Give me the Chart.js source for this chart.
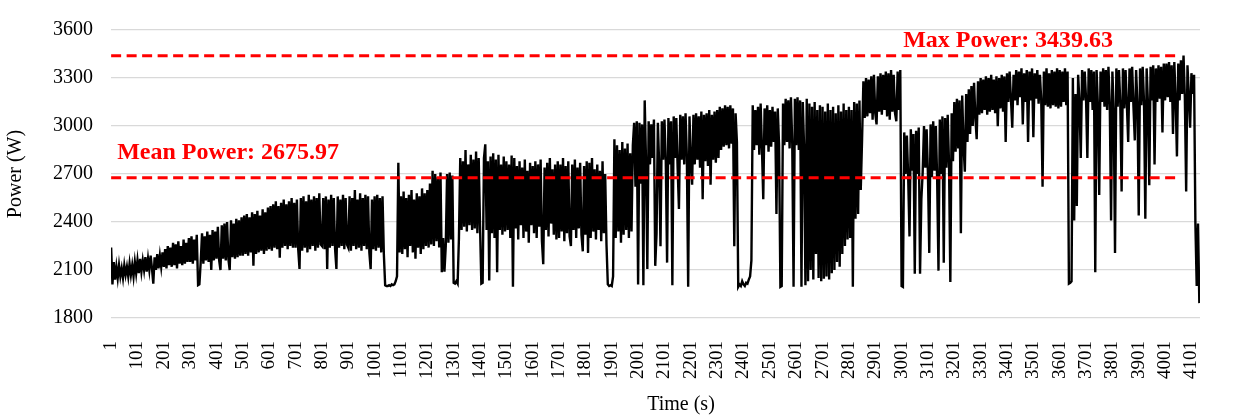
<!DOCTYPE html>
<html>
<head>
<meta charset="utf-8">
<script src="https://cdn.jsdelivr.net/npm/chart.js@4/dist/chart.umd.min.js"></script>
<style>
  body { margin: 0; background: #fff; }
</style>
</head>
<body>
<canvas id="chart" width="1244" height="417"></canvas>
<script>
'use strict';

// Power readings (W), one sample every 5 s starting at t = 1 s
// (one row = 100 s)
const sampleStep = 5;
const powerA = [ // t 1 .. 996
  2240, 2010, 2150, 2040, 2120, 2050, 2130, 2060, 2110, 2050, 2130, 2070, 2120, 2060, 2140, 2070, 2130, 2060, 2150, 2080,
  2160, 2080, 2170, 2090, 2160, 2100, 2180, 2090, 2170, 2100, 2190, 2110, 2015, 2180, 2100, 2200, 2110, 2190, 2120, 2210,
  2120, 2230, 2110, 2250, 2130, 2240, 2120, 2270, 2130, 2260, 2110, 2280, 2140, 2250, 2130, 2290, 2140, 2270, 2150, 2300,
  2150, 2310, 2140, 2290, 2160, 2320, 2005, 2010, 2150, 2330, 2140, 2310, 2160, 2340, 2150, 2320, 2100, 2350, 2160, 2340,
  2170, 2370, 2160, 2100, 2380, 2170, 2390, 2160, 2400, 2170, 2100, 2410, 2180, 2390, 2170, 2420, 2180, 2410, 2190, 2430,
  2190, 2440, 2200, 2450, 2190, 2430, 2210, 2460, 2126, 2450, 2200, 2470, 2210, 2440, 2220, 2480, 2200, 2460, 2220, 2490,
  2230, 2500, 2220, 2510, 2240, 2530, 2230, 2500, 2177, 2520, 2240, 2540, 2250, 2510, 2230, 2530, 2250, 2550, 2240, 2520,
  2240, 2540, 2230, 2106, 2550, 2220, 2560, 2240, 2530, 2210, 2570, 2230, 2540, 2250, 2560, 2220, 2550, 2240, 2580, 2260,
  2250, 2550, 2230, 2560, 2106, 2540, 2240, 2570, 2250, 2550, 2230, 2106, 2560, 2240, 2540, 2250, 2570, 2230, 2550, 2260,
  2240, 2560, 2220, 2550, 2250, 2600, 2230, 2540, 2240, 2580, 2220, 2550, 2250, 2570, 2230, 2560, 2210, 2106, 2540, 2230
];
const powerB = [ // t 1001 .. 1996
  2560, 2220, 2570, 2240, 2550, 2210, 2560, 2200, 2005, 2000, 2000, 2005, 2000, 2010, 2005, 2010, 2030, 2060, 2770, 2210,
  2560, 2200, 2590, 2230, 2550, 2180, 2570, 2250, 2600, 2210, 2540, 2170, 2580, 2240, 2560, 2200, 2610, 2230, 2580, 2250,
  2600, 2240, 2640, 2260, 2720, 2250, 2700, 2280, 2680, 2240, 2710, 2086, 2300, 2090, 2250, 2700, 2270, 2710, 2290, 2690,
  2020, 2015, 2030, 2015, 2300, 2800, 2350, 2780, 2370, 2850, 2340, 2760, 2380, 2820, 2350, 2790, 2360, 2840, 2330, 2800,
  2380, 2015, 2020, 2800, 2886, 2350, 2780, 2035, 2810, 2330, 2830, 2300, 2790, 2086, 2820, 2350, 2760, 2320, 2810, 2340,
  2780, 2350, 2760, 2300, 2815, 1995, 2800, 2360, 2750, 2290, 2780, 2380, 2740, 2300, 2790, 2340, 2720, 2270, 2770, 2380,
  2750, 2330, 2780, 2300, 2760, 2370, 2790, 2280, 2136, 2740, 2350, 2770, 2310, 2800, 2390, 2730, 2320, 2760, 2290, 2780,
  2300, 2760, 2340, 2800, 2280, 2750, 2330, 2780, 2310, 2250, 2760, 2350, 2790, 2300, 2740, 2360, 2770, 2320, 2217, 2750,
  2320, 2780, 2207, 2770, 2300, 2800, 2340, 2730, 2290, 2760, 2350, 2720, 2280, 2780, 2330, 2700, 2260, 2010, 2000, 2005,
  2000, 2060, 2917, 2300, 2880, 2340, 2850, 2270, 2900, 2320, 2860, 2350, 2890, 2300, 2830, 2340, 2880, 3020, 2620, 3030
];
const powerC = [ // t 2001 .. 2996
  2010, 3020, 2640, 3010, 2005, 3160, 2780, 2106, 3030, 2760, 3010, 2800, 3040, 2126, 2329, 3020, 2750, 2248, 3030, 2790,
  3040, 2780, 2146, 3050, 2760, 3030, 2005, 3060, 2800, 3050, 2740, 2481, 3070, 2790, 3060, 2760, 3080, 2810, 1995, 3060,
  2780, 2633, 3070, 2760, 3080, 2790, 3060, 2740, 3090, 2542, 3070, 2780, 3080, 2750, 3100, 2633, 3070, 2790, 3090, 2770,
  3100, 2800, 3120, 2850, 3110, 2870, 3130, 2880, 3120, 2860, 3130, 2890, 3110, 2248, 3080, 2900, 1995, 2010, 2000, 2030,
  2010, 2000, 2020, 2015, 2040, 2060, 2160, 3130, 2850, 3100, 2880, 3120, 2820, 3140, 2860, 2542, 3110, 2880, 3130, 2840,
  3100, 2870, 3120, 2900, 3090, 2450, 3110, 2880, 1995, 2000, 3140, 2880, 3170, 2900, 3160, 2860, 3180, 2890, 1995, 3170,
  2880, 3180, 2850, 3160, 1995, 3150, 2860, 2005, 3170, 2030, 3140, 2100, 3120, 2040, 3150, 2200, 3100, 2050, 3130, 2030,
  3120, 2045, 3090, 2060, 3140, 2040, 3100, 2080, 3120, 2100, 3080, 2150, 3130, 2120, 3090, 2200, 3140, 2250, 3100, 2290,
  3120, 2300, 3100, 1995, 3150, 2420, 3140, 2450, 3160, 2600, 2917, 3280, 3050, 3300, 3060, 3290, 3080, 3310, 3040, 3320,
  3080, 3010, 3310, 3090, 3330, 3070, 3320, 3100, 3340, 3060, 3330, 3040, 3350, 3090, 3320, 3080, 3030, 3340, 3100, 3350
];
const powerD = [ // t 3001 .. 4131
  2000, 1995, 2960, 2700, 2940, 2680, 2310, 2980, 2720, 2950, 2076, 2970, 2700, 2990, 2076, 2542, 2710, 3000, 2740, 2980,
  2700, 2207, 3010, 2680, 3030, 2720, 3000, 2660, 2096, 3040, 2700, 3060, 2146, 3050, 2740, 3070, 2760, 2025, 3080, 2780,
  3150, 2840, 3170, 2860, 3160, 2330, 3190, 2880, 2714, 3200, 2900, 3230, 2950, 3250, 3000, 3270, 3050, 2917, 3280, 3070,
  3300, 3080, 3290, 3100, 3310, 3070, 3300, 3090, 3320, 3100, 3290, 3080, 3310, 2998, 3300, 3110, 3320, 3090, 3310, 2900,
  3330, 3150, 3340, 3170, 2990, 3320, 3160, 3350, 3130, 3340, 3180, 3360, 3010, 3330, 3150, 3350, 2900, 3340, 3160, 3360,
  2930, 3330, 3170, 3350, 3140, 3320, 3160, 2620, 3340, 3130, 3360, 3120, 3330, 3110, 3350, 3130, 3340, 3120, 3360, 3110,
  3350, 3120, 3340, 3150, 3360, 3130, 3340, 2015, 2020, 2030, 3300, 2410, 3200, 2500, 3320, 3150, 2800, 3350, 3160, 3340,
  3170, 2800, 3360, 3150, 3350, 3100, 3340, 2086, 3350, 3130, 2569, 3340, 3150, 3360, 3120, 3350, 3100, 3370, 3140, 2410,
  3340, 3100, 2207, 3360, 3120, 3350, 3140, 2590, 3360, 3110, 3350, 3130, 2900, 3360, 3150, 3370, 3120, 2910, 3350, 3140,
  2440, 3360, 3130, 3370, 3150, 2420, 3360, 3140, 2630, 3370, 3160, 3380, 2760, 3360, 3150, 3380, 3170, 3370, 2960, 3390,
  3160, 3390, 3180, 3400, 3150, 3380, 2950, 3400, 3170, 2810, 3390, 3160, 3410, 3200, 3439.63, 3180, 2590, 3380, 3190, 2990,
  3330, 3200, 3320, 2390, 2000, 2390, 1893
];

const meanPower = 2675.97;
const maxPower = 3439.63;
const refSpan = [1, 4058];

const xTicks = [1, 101, 201, 301, 401, 501, 601, 701, 801, 901, 1001, 1101,
  1201, 1301, 1401, 1501, 1601, 1701, 1801, 1901, 2001, 2101, 2201, 2301,
  2401, 2501, 2601, 2701, 2801, 2901, 3001, 3101, 3201, 3301, 3401, 3501,
  3601, 3701, 3801, 3901, 4001, 4101];
const yTicks = [1800, 2100, 2400, 2700, 3000, 3300, 3600];

function renderChart() {
  const power = powerA.concat(powerB, powerC, powerD);
  const trace = power.map((p, i) => ({ x: 1 + i * sampleStep, y: p }));
  const refLine = v => refSpan.map(t => ({ x: t, y: v }));

  const serif = 'Liberation Serif';
  const red = '#ff0000';

  const labelPlugin = {
    id: 'refLabels',
    afterDatasetsDraw(chart) {
      const { ctx, scales } = chart;
      const xs = scales.x;
      const ys = scales.y;
      ctx.save();
      ctx.fillStyle = red;
      ctx.font = 'bold 24px "' + serif + '"';
      ctx.textBaseline = 'alphabetic';
      ctx.textAlign = 'left';
      ctx.fillText('Mean Power: ' + meanPower.toFixed(2),
        xs.getPixelForValue(1) + 6, ys.getPixelForValue(meanPower) - 19);
      ctx.fillText('Max Power: ' + maxPower.toFixed(2),
        xs.getPixelForValue(3007), ys.getPixelForValue(maxPower) - 9);
      // x axis title
      ctx.fillStyle = '#000';
      ctx.font = '20px "' + serif + '"';
      ctx.textAlign = 'center';
      ctx.textBaseline = 'middle';
      ctx.fillText('Time (s)', 681, 405);
      ctx.restore();
    }
  };

  const ctx = document.getElementById('chart').getContext('2d');
  new Chart(ctx, {
    type: 'line',
    data: {
      datasets: [
        {
          label: 'Mean',
          data: refLine(meanPower),
          borderColor: red,
          borderWidth: 3,
          borderDash: [10, 5.5],
          pointRadius: 0,
          order: 1
        },
        {
          label: 'Max',
          data: refLine(maxPower),
          borderColor: red,
          borderWidth: 3,
          borderDash: [10, 5.5],
          pointRadius: 0,
          order: 1
        },
        {
          label: 'Power',
          data: trace,
          borderColor: '#000',
          borderWidth: 2.4,
          pointRadius: 0,
          tension: 0,
          order: 2
        }
      ]
    },
    options: {
      responsive: false,
      animation: false,
      devicePixelRatio: 1,
      layout: { padding: { left: 0, right: 44, top: 20, bottom: 0 } },
      plugins: {
        legend: { display: false },
        tooltip: { enabled: false }
      },
      scales: {
        x: {
          type: 'linear',
          min: 0.5,
          max: 4133.5,
          grid: { display: false },
          border: { display: false },
          afterBuildTicks: scale => {
            scale.ticks = xTicks.map(v => ({ value: v }));
          },
          afterFit: scale => { scale.height = 99; },
          ticks: {
            autoSkip: false,
            minRotation: 90,
            maxRotation: 90,
            padding: 15,
            color: '#000',
            font: { family: serif, size: 19 },
            callback: v => String(v)
          }
        },
        y: {
          min: 1800,
          max: 3600,
          afterBuildTicks: scale => {
            scale.ticks = yTicks.map(v => ({ value: v }));
          },
          afterFit: scale => { scale.width = 111; },
          grid: { color: '#d9d9d9', lineWidth: 1.3, drawTicks: false },
          border: { display: false },
          ticks: {
            padding: 18,
            color: '#000',
            font: { family: serif, size: 20 },
            callback: v => String(v)
          },
          title: {
            display: true,
            text: 'Power (W)',
            color: '#000',
            font: { family: serif, size: 20 }
          }
        }
      }
    },
    plugins: [labelPlugin]
  });
}

document.addEventListener('DOMContentLoaded', renderChart);
</script>
</body>
</html>
